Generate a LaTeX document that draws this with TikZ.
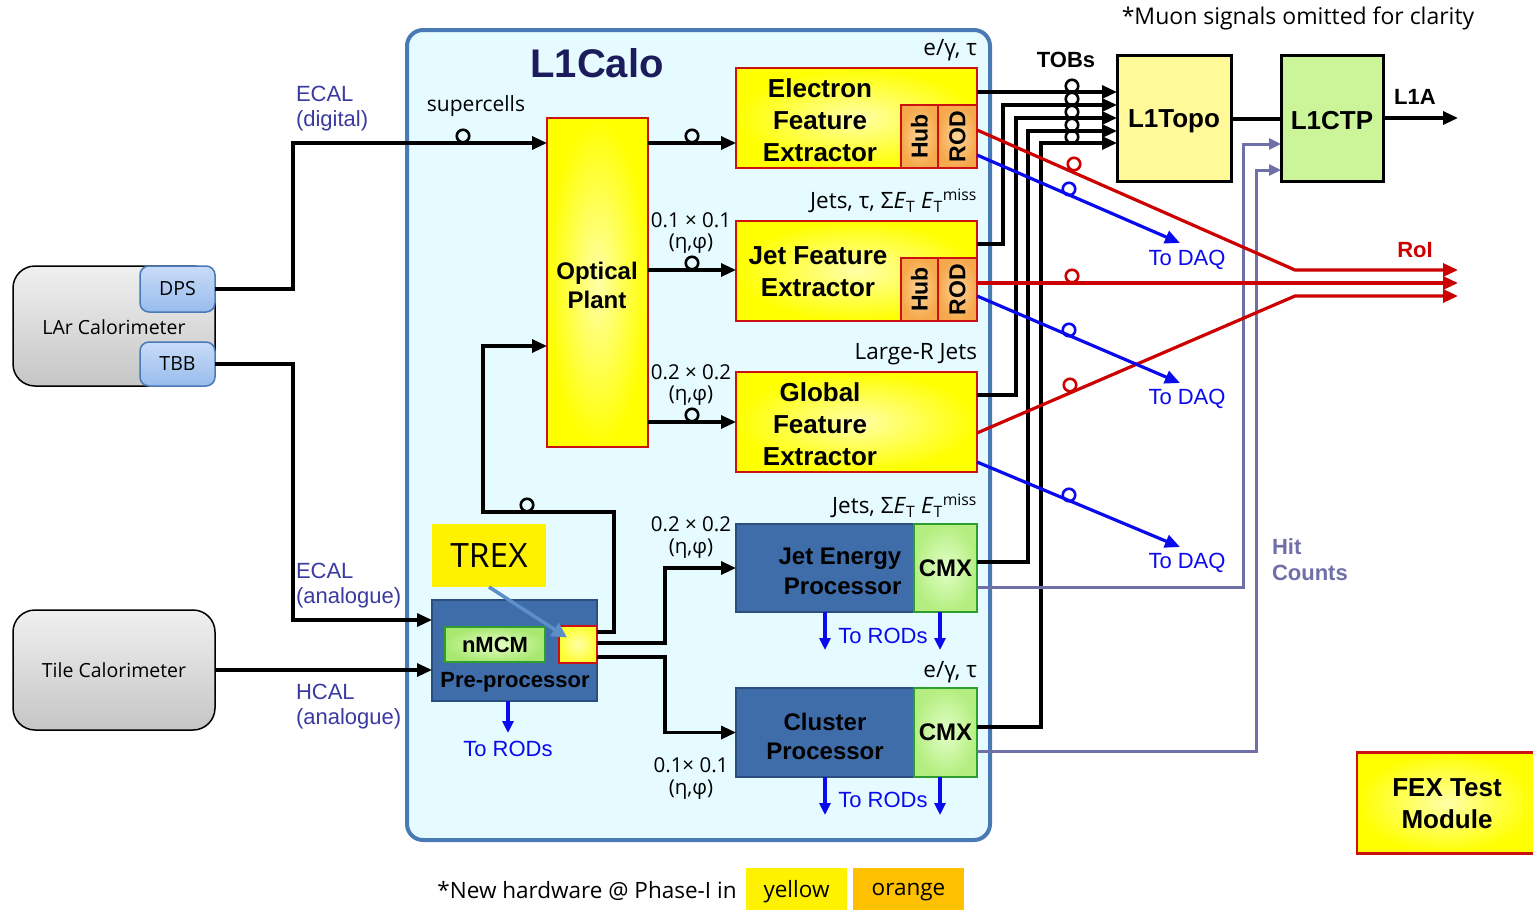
\documentclass[tikz,border=0pt]{standalone}
\usepackage{fontspec}
\setmainfont{Liberation Sans}
\newfontfamily\lgfont{Open Sans}
\usetikzlibrary{arrows.meta,calc}
\newcommand\F[2]{\fontsize{#1}{#2}\selectfont}
\definecolor{calobg}{HTML}{E6FBFF}
\definecolor{caloedge}{HTML}{4A7AB5}
\definecolor{navy}{HTML}{1C1C5C}
\definecolor{lblue}{HTML}{3A3AA0}
\definecolor{boxred}{HTML}{CC1111}
\definecolor{yelin}{HTML}{FFFFA8}
\definecolor{orin}{HTML}{FCD49A}
\definecolor{orout}{HTML}{F6A84A}
\definecolor{procblue}{HTML}{3F6DAA}
\definecolor{procedge}{HTML}{2A4E80}
\definecolor{cmxin}{HTML}{E2FFC8}
\definecolor{cmxout}{HTML}{B4EE80}
\definecolor{cmxedge}{HTML}{2E9E2E}
\definecolor{nmcmin}{HTML}{E8FFC8}
\definecolor{nmcmout}{HTML}{A8E870}
\definecolor{subtop}{HTML}{C8DCF8}
\definecolor{subbot}{HTML}{98BCEC}
\definecolor{subedge}{HTML}{4A7AB5}
\definecolor{hitc}{HTML}{7070A8}
\definecolor{roired}{HTML}{CC0000}
\definecolor{daqblue}{HTML}{0A0AEE}
\definecolor{topofill}{HTML}{FFF99A}
\definecolor{ctpfill}{HTML}{CCF59A}
\definecolor{orangekey}{HTML}{FFC000}
\definecolor{trexarrow}{HTML}{5B8FC8}
\begin{document}
\begin{tikzpicture}[x=1pt,y=-1pt,
 every node/.style={inner sep=0pt,outer sep=0pt},
 conn/.style={draw=black,line width=3.2pt},
 arr/.style={-{Triangle[length=15pt,width=13pt]}},
 sarr/.style={-{Triangle[length=12pt,width=11pt]}},
 ring/.style={circle,draw=#1,line width=2.6pt,minimum size=12.5pt},
 ring/.default=black,
 yelbox/.style={rectangle,draw=boxred,line width=2.8pt,inner color=yelin,outer color=yellow},
 hubbox/.style={rectangle,draw=boxred,line width=2.5pt,inner color=orin,outer color=orout,font=\F{23}{26}\bfseries,rotate=90},
 procbox/.style={rectangle,draw=procedge,line width=2pt,fill=procblue},
 cmxbox/.style={rectangle,draw=cmxedge,line width=2.5pt,inner color=cmxin,outer color=cmxout,font=\F{24}{28}\bfseries},
 calbox/.style={rectangle,rounded corners=22pt,draw=black,line width=1.5pt,top color=gray!12,bottom color=gray!45},
 subbox/.style={rectangle,rounded corners=9pt,draw=subedge,line width=1.5pt,top color=subtop,bottom color=subbot,font=\lgfont\F{19.5}{22}},
 roi/.style={draw=roired,line width=3.2pt},
 daq/.style={draw=daqblue,line width=3.2pt},
 hit/.style={draw=hitc,line width=3pt},
 bigtxt/.style={font=\F{26}{32}\bfseries,align=center},
 lbl/.style={font=\lgfont\F{22.5}{26},align=center},
 glbl/.style={font=\lgfont\F{20.5}{24},align=center},
 blbl/.style={font=\F{22}{26},text=lblue,align=left,anchor=west},
 daqtxt/.style={font=\F{22}{26},text=daqblue},
 keybox/.style={rectangle,minimum height=42pt,font=\lgfont\F{22.5}{26},text depth=0pt},
]
\useasboundingbox (0,0) rectangle (1533,911);

% L1Calo container
\node[rectangle,rounded corners=16pt,draw=caloedge,line width=4pt,fill=calobg,minimum width=583pt,minimum height=810pt] (calo) at (698.5,435) {};
\node[font=\F{40}{44}\bfseries,text=navy] (calotitle) at (597,63) {L1Calo};

% calorimeters
\node[calbox,minimum width=202pt,minimum height=120pt] (lar) at (114,326) {};
\node[font=\lgfont\F{19.5}{22}] (lartxt) at (114,327) {LAr Calorimeter};
\node[subbox,minimum width=75pt,minimum height=46pt] (dps) at (177.5,289) {DPS};
\node[subbox,minimum width=75pt,minimum height=44pt] (tbb) at (177.5,364) {TBB};
\node[calbox,minimum width=202pt,minimum height=120pt,font=\lgfont\F{19.5}{22}] (tile) at (114,670) {Tile Calorimeter};

% labels on left
\node[blbl] (ecald) at (296,109) {\begin{tabular}{@{}l@{}}ECAL\\[-0.5pt](digital)\end{tabular}};
\node[blbl] (ecala) at (296,586) {\begin{tabular}{@{}l@{}}ECAL\\[-0.5pt](analogue)\end{tabular}};
\node[blbl] (hcala) at (296,707) {\begin{tabular}{@{}l@{}}HCAL\\[-0.5pt](analogue)\end{tabular}};
\node[font=\lgfont\F{21}{24}] (supc) at (476,106) {supercells};

% optical plant
\node[yelbox,minimum width=101pt,minimum height=329pt] (optical) at (597.5,282.5) {};
\node[font=\F{24}{29}\bfseries,align=center] (opttxt) at (597,285) {Optical\\Plant};

% feature extractors
\node[yelbox,minimum width=241pt,minimum height=100pt] (efex) at (856.5,118) {};
\node[bigtxt] (efextxt) at (820,120) {Electron\\Feature\\Extractor};
\node[hubbox,minimum width=63pt,minimum height=37pt] (efexhub) at (919.5,136.5) {Hub};
\node[hubbox,minimum width=63pt,minimum height=39pt] (efexrod) at (957.5,136.5) {ROD};

\node[yelbox,minimum width=241pt,minimum height=100pt] (jfex) at (856.5,271) {};
\node[bigtxt] (jfextxt) at (818,272) {Jet Feature\\Extractor};
\node[hubbox,minimum width=63pt,minimum height=37pt] (jfexhub) at (919.5,289.5) {Hub};
\node[hubbox,minimum width=63pt,minimum height=39pt] (jfexrod) at (957.5,289.5) {ROD};

\node[yelbox,minimum width=241pt,minimum height=100pt] (gfex) at (856.5,422) {};
\node[bigtxt] (gfextxt) at (820,424) {Global\\Feature\\Extractor};

% legacy processors
\node[procbox,minimum width=178pt,minimum height=88pt] (jep) at (825,568) {};
\node[font=\F{24}{30}\bfseries,align=right] (jeptxt) at (840,571) {Jet Energy\\Processor};
\node[cmxbox,minimum width=63pt,minimum height=88pt] (jepcmx) at (945.5,568) {CMX};

\node[procbox,minimum width=178pt,minimum height=89pt] (cp) at (825,732.5) {};
\node[font=\F{24}{29}\bfseries,align=center] (cptxt) at (825,736) {Cluster\\Processor};
\node[cmxbox,minimum width=63pt,minimum height=89pt] (cpcmx) at (945.5,732.5) {CMX};

% pre-processor
\node[procbox,minimum width=165pt,minimum height=101pt] (pre) at (514.5,650.5) {};
\node[rectangle,draw=cmxedge,line width=2.5pt,inner color=nmcmin,outer color=nmcmout,minimum width=100pt,minimum height=35pt,font=\F{22}{26}\bfseries] (nmcm) at (495,644.5) {nMCM};
\node[font=\F{22}{26}\bfseries] (pretxt) at (515,682) {Pre-processor};
\node[rectangle,draw=boxred,line width=2.5pt,inner color=yelin,outer color=yellow!80,minimum width=38pt,minimum height=37pt] (trex) at (578,644.5) {};
\node[rectangle,fill=yellow,minimum width=114pt,minimum height=63pt,font=\lgfont\F{33.5}{38}] (trexlab) at (489,555.5) {TREX};
\draw[draw=trexarrow,line width=3.5pt,-{Triangle[length=15pt,width=15pt]}] (trexlab.south) -- ($(trex.center)+(-11,-7)$);

% top-right trigger boxes
\node[rectangle,draw=black,line width=3pt,fill=topofill,minimum width=114pt,minimum height=126pt] (l1topo) at (1174,118) {};
\node[font=\F{26}{30}\bfseries] (l1topotxt) at (1174,121) {L1Topo};
\node[rectangle,draw=black,line width=3pt,fill=ctpfill,minimum width=102pt,minimum height=126pt] (l1ctp) at (1332,118) {};
\node[font=\F{26}{30}\bfseries] (l1ctptxt) at (1332,121) {L1CTP};
\node[font=\F{22}{26}\bfseries] (tobs) at (1066,60) {TOBs};
\node[font=\F{22}{26}\bfseries] (l1a) at (1415,97) {L1A};
\node[font=\F{22}{26}\bfseries,text=roired] (roitxt) at (1415,250) {RoI};
\node[font=\F{22}{26}\bfseries,text=hitc,align=left,anchor=west] (hittxt) at (1272,560) {Hit\\Counts};
\node[font=\lgfont\F{23}{26}] (muon) at (1298,18) {*Muon signals omitted for clarity};

% FEX test module
\node[yelbox,minimum width=178pt,minimum height=101pt] (fextest) at (1446,803) {};
\node[bigtxt] (fextesttxt) at (1447,804) {FEX Test\\Module};

% bottom key
\node[font=\lgfont\F{22.5}{26}] (newhw) at (587,891) {*New hardware @ Phase-I in};
\node[keybox,fill=yellow,minimum width=101pt] (keyy) at (796.5,889) {yellow};
\node[keybox,fill=orangekey,minimum width=111pt] (keyo) at (908.5,889) {orange};

% annotation labels
\node[lbl,anchor=east] (l1) at (977,50) {e/γ, τ};
\node[lbl,anchor=east] (l2) at (977,201) {Jets, τ, Σ\textit{E}\textsubscript{T} \textit{E}\textsubscript{T}\textsuperscript{miss}};
\node[lbl,anchor=east] (l3) at (977,354) {Large-R Jets};
\node[lbl,anchor=east] (l4) at (977,506) {Jets, Σ\textit{E}\textsubscript{T} \textit{E}\textsubscript{T}\textsuperscript{miss}};
\node[lbl,anchor=east] (l5) at (977,672) {e/γ, τ};
\node[glbl] (g1a) at (691,220) {0.1 × 0.1};
\node[glbl] (g1b) at (691,244) {(η,φ)};
\node[glbl] (g2a) at (691,372) {0.2 × 0.2};
\node[glbl] (g2b) at (691,396) {(η,φ)};
\node[glbl] (g3a) at (691,524) {0.2 × 0.2};
\node[glbl] (g3b) at (691,549) {(η,φ)};
\node[glbl] (g4a) at (691,765) {0.1× 0.1};
\node[glbl] (g4b) at (691,790) {(η,φ)};

% input connectors
\draw[conn,arr] (dps.east) -- (293,289) |- (optical.west |- 0,143);
\node[ring] (r0) at (463,136) {};
\draw[conn,arr] (tbb.east) -- (293,364) |- (pre.west |- 0,620);
\draw[conn,arr] (tile.east) -- (pre.west |- tile.east);

% optical plant outputs
\draw[conn,arr] (optical.east |- 0,143) -- (efex.west |- 0,143);
\node[ring] (r1) at (692,136) {};
\draw[conn,arr] (optical.east |- 0,270) -- (jfex.west |- 0,270);
\node[ring] (r2) at (692,263) {};
\draw[conn,arr] (optical.east |- 0,422) -- (gfex.west |- 0,422);
\node[ring] (r3) at (692,415) {};

% pre-processor outputs
\draw[conn,arr] (trex.east |- 0,643) -- (665,643) |- (jep.west);
\draw[conn,arr] (trex.east |- 0,657) -- (665,657) |- (cp.west);
\draw[conn,arr] (trex.east |- 0,632) -| (614,512) -| (483,346) -- (optical.west |- 0,346);
\node[ring] (r4) at (527,505) {};

% To RODs
\coordinate (rod1) at (825,650);
\coordinate (rod2) at (940,650);
\coordinate (rod3) at (825,815);
\coordinate (rod4) at (940,815);
\coordinate (rod5) at (508,733);
\draw[daq,sarr] (jep.south -| rod1) -- (rod1);
\draw[daq,sarr] (jepcmx.south -| rod2) -- (rod2);
\draw[daq,sarr] (cp.south -| rod3) -- (rod3);
\draw[daq,sarr] (cpcmx.south -| rod4) -- (rod4);
\draw[daq,sarr] (pre.south -| rod5) -- (rod5);
\node[daqtxt] (rodt1) at (883,636) {To RODs};
\node[daqtxt] (rodt2) at (883,800) {To RODs};
\node[daqtxt] (rodt3) at (508,749) {To RODs};

% TOBs to L1Topo
\draw[conn,arr] (efex.east |- 0,92) -- (l1topo.west |- 0,92);
\draw[conn,arr] (jfex.east |- 0,244) -| (1003,105) -- (l1topo.west |- 0,105);
\draw[conn,arr] (gfex.east |- 0,395) -| (1016,118) -- (l1topo.west |- 0,118);
\draw[conn,arr] (jepcmx.east |- 0,562) -| (1028,131) -- (l1topo.west |- 0,131);
\draw[conn,arr] (cpcmx.east |- 0,727) -| (1041,143) -- (l1topo.west |- 0,143);
\foreach \yy/\nm in {86/t1,99/t2,112/t3,125/t4,137/t5} \node[ring] (\nm) at (1072,\yy) {};

% L1Topo -> L1CTP -> L1A
\draw[conn] (l1topo.east |- 0,119) -- (l1ctp.west |- 0,119);
\coordinate (l1aend) at (1458,118);
\draw[conn,arr] (l1ctp.east |- l1aend) -- (l1aend);

% Hit counts
\draw[hit,sarr] (jepcmx.east |- 0,587) -| (1243,144) -- (l1ctp.west |- 0,144);
\draw[hit,sarr] (cpcmx.east |- 0,751) -| (1256,170) -- (l1ctp.west |- 0,170);

% RoI
\coordinate (roi1) at (1458,270);
\coordinate (roi2) at (1458,283);
\coordinate (roi3) at (1458,296);
\draw[roi,arr] (efex.east |- 0,130) -- (1295,270) -- (roi1);
\draw[roi,arr] (jfex.east |- 0,283) -- (roi2);
\draw[roi,arr] (gfex.east |- 0,433) -- (1295,296) -- (roi3);
\node[ring=roired] (rr1) at (1074,164) {};
\node[ring=roired] (rr2) at (1072,276) {};
\node[ring=roired] (rr3) at (1070,385) {};

% To DAQ
\coordinate (daq1) at (1180,243);
\coordinate (daq2) at (1180,383);
\coordinate (daq3) at (1180,547);
\draw[daq,arr] (efex.east |- 0,155) -- (daq1);
\draw[daq,arr] (jfex.east |- 0,296) -- (daq2);
\draw[daq,arr] (gfex.east |- 0,462) -- (daq3);
\node[ring=daqblue] (rb1) at (1069,189) {};
\node[ring=daqblue] (rb2) at (1069,330) {};
\node[ring=daqblue] (rb3) at (1069,495) {};
\node[daqtxt] (daqt1) at (1187,260) {To DAQ};
\node[daqtxt] (daqt2) at (1187,399) {To DAQ};
\node[daqtxt] (daqt3) at (1187,563) {To DAQ};
\end{tikzpicture}
\end{document}
